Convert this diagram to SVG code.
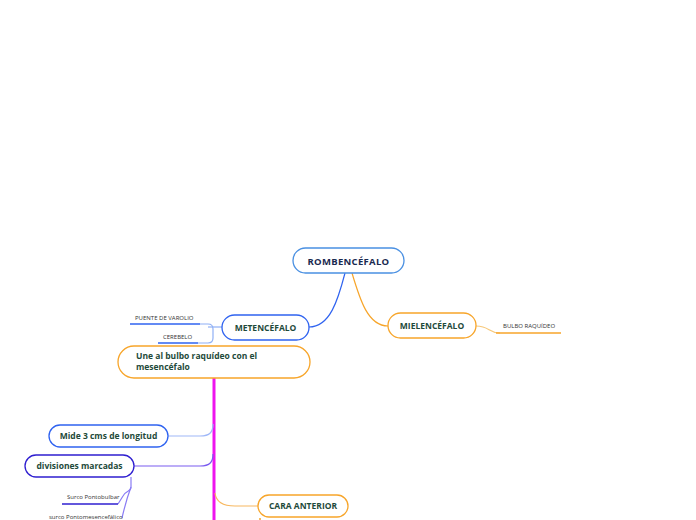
<svg xmlns="http://www.w3.org/2000/svg" width="696" height="520" viewBox="0 0 696 520">
<style>
.node{fill:#fff;stroke-width:1.3}
.t{font-family:"Open Sans","Noto Sans",sans-serif;font-weight:bold;font-size:8.5px;fill:#1e4a3a}
.s{font-family:"Open Sans","Noto Sans",sans-serif;font-size:6px;fill:#333}
.c{fill:none;stroke-width:1.2}
</style>
<rect width="696" height="520" fill="#fff"/>
<g id="connectors">
<path class="c" d="M345,273 C338,300 330,327 309,327" stroke="#2f63f0"/>
<path class="c" d="M352,273 C360,300 368,326 388,326" stroke="#f7a52a"/>
<path class="c" d="M476,326 C490,326 488,333 500,333" stroke="#f7c87a"/>
<path class="c" d="M222,327 L208,327" stroke="#8fb0f5"/>
<path class="c" d="M200,324 L208,324 Q213,324 213,329 L213,338 Q213,343 208,343 L198,343" stroke="#8fb0f5"/>
<path d="M214,378 L214,520" stroke="#ee14ee" stroke-width="3" fill="none"/>
<path class="c" d="M168,436 L200,436 C210,436 213,432 213,424" stroke="#9fb8f8"/>
<path class="c" d="M134,466 L200,466 C210,466 213,462 213,454" stroke="#7a5cf0"/>
<path class="c" d="M131,477 L131,487 C131,492 126,490 123,496 L118,504" stroke="#8a7cf4"/>
<path class="c" d="M131,487 C128,495 125,505 122,518" stroke="#8a7cf4"/>
<path class="c" d="M215,493 C216,502 222,506 235,506 L258,506" stroke="#f7b860"/>
<path d="M130,324 L200,324" stroke="#2f63f0" stroke-width="1.5"/>
<path d="M158,343 L198,343" stroke="#2f63f0" stroke-width="1.5"/>
<path d="M496,333 L561,333" stroke="#f7a52a" stroke-width="1.5"/>
<path d="M62,504 L118,504" stroke="#2f1fd0" stroke-width="1.5"/>
</g>
<g id="rombencefalo">
<rect class="node" x="293" y="248" width="111" height="25" rx="12.5" stroke="#4a90e2"/>
<text class="t" x="348.5" y="264.5" text-anchor="middle" style="fill:#1a2a50;font-size:9.5px;letter-spacing:0.3px">ROMBENCÉFALO</text>
</g>
<g id="metencefalo">
<rect class="node" x="222" y="315" width="87" height="25" rx="12.5" stroke="#2f63f0"/>
<text class="t" x="265.5" y="330.5" text-anchor="middle">METENCÉFALO</text>
</g>
<g id="mielencefalo">
<rect class="node" x="388" y="313" width="88" height="25" rx="12.5" stroke="#f7a52a"/>
<text class="t" x="432" y="328.5" text-anchor="middle">MIELENCÉFALO</text>
</g>
<g id="bulbo">
<text class="s" x="503" y="328">BULBO RAQUÍDEO</text>
</g>
<g id="puente">
<text class="s" x="135" y="320">PUENTE DE VAROLIO</text>
</g>
<g id="cerebelo">
<text class="s" x="163" y="339">CEREBELO</text>
</g>
<g id="une">
<rect class="node" x="118" y="346" width="192" height="32" rx="16" stroke="#f7a52a"/>
<text class="t" x="136" y="359">Une al bulbo raquídeo con el</text>
<text class="t" x="136" y="370">mesencéfalo</text>
</g>
<g id="mide">
<rect class="node" x="49" y="425" width="119" height="22" rx="11" stroke="#2f63f0"/>
<text class="t" x="108.5" y="439" text-anchor="middle">Mide 3 cms de longitud</text>
</g>
<g id="divisiones">
<rect class="node" x="25" y="455" width="109" height="22" rx="11" stroke="#2f1fd0"/>
<text class="t" x="79.5" y="469" text-anchor="middle">divisiones marcadas</text>
</g>
<g id="pontobulbar">
<text class="s" x="67" y="499">Surco Pontobulbar</text>
</g>
<g id="pontomesencefalico">
<text class="s" x="49" y="519">surco Pontomesencefálico</text>
</g>
<g id="cara">
<rect class="node" x="258" y="495" width="90" height="22" rx="11" stroke="#f7a52a"/>
<text class="t" x="303" y="509" text-anchor="middle">CARA ANTERIOR</text>
<circle cx="260" cy="519" r="1" fill="#f7a52a"/>
</g>
</svg>
